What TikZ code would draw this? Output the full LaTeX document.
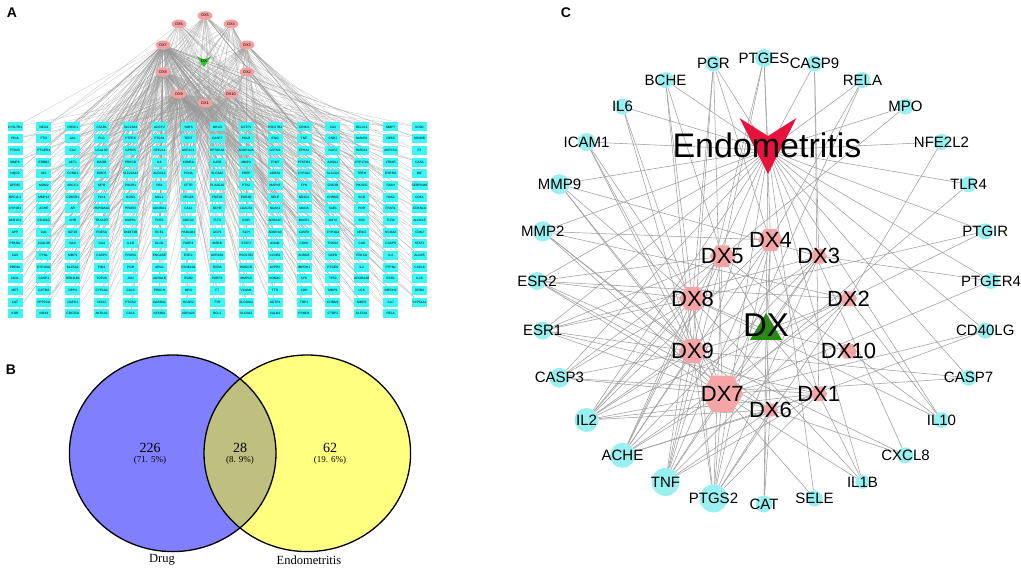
\documentclass[tikz,border=0pt]{standalone}
\usepackage{fontspec}
\setmainfont{Liberation Sans}
\newfontfamily\serifB{Liberation Serif}
\usetikzlibrary{shapes.geometric}
\pgfdeclarelayer{bg}
\pgfsetlayers{bg,main}
\definecolor{aboxc}{RGB}{60,245,245}
\definecolor{apink}{RGB}{244,160,160}
\definecolor{cgene}{RGB}{153,240,240}
\definecolor{cpink}{RGB}{245,165,165}
\definecolor{endoc}{RGB}{232,18,62}
\definecolor{dxg}{RGB}{40,140,20}
\definecolor{dxga}{RGB}{40,200,40}
\definecolor{vblue}{RGB}{128,128,255}
\definecolor{vyel}{RGB}{255,255,128}
\definecolor{volive}{RGB}{191,191,128}
\def\Lst{{7,8,9,7,1,9,8,10,7,3,2,9,4,7,6,5,8,1,7,9}}
\begin{document}
\begin{tikzpicture}[x=1pt,y=-1pt,
 abx/.style={draw=none,fill=aboxc,minimum width=15pt,minimum height=9pt,inner sep=0pt,font=\fontsize{3.2}{3.4}\selectfont},
 aell/.style={ellipse,fill=apink,minimum width=15pt,minimum height=9pt,inner sep=0pt,font=\fontsize{3.8}{4}\selectfont},
 aedge/.style={draw=gray!80,line width=0.3pt,opacity=0.55},
 cedge/.style={draw=gray!75,line width=0.55pt},
 gcirc/.style={circle,fill=cgene,inner sep=0pt},
 glab/.style={font=\fontsize{15}{18}\selectfont,inner sep=0pt},
 hexa/.style={regular polygon,regular polygon sides=6,fill=cpink,inner sep=0pt},
 dxlab/.style={font=\fontsize{22}{26}\selectfont,inner sep=0pt},
 plab/.style={font=\bfseries\fontsize{14}{16}\selectfont,inner sep=0pt},
 vlab/.style={font=\serifB\fontsize{14}{16}\selectfont,inner sep=0pt},
 vpct/.style={font=\serifB\fontsize{9}{11}\selectfont,inner sep=0pt},
 vname/.style={font=\serifB\fontsize{12.5}{15}\selectfont,inner sep=0pt},
]
\useasboundingbox (0,0) rectangle (1021,569);
\begin{pgfonlayer}{bg}
\fill[white] (0,0) rectangle (1021,569);
\end{pgfonlayer}

% ---------- panel labels
\node[plab] (labA) at (12,13) {A};
\node[plab] (labB) at (11,370) {B};
\node[plab] (labC) at (566,13) {C};

% ---------- panel A : compounds
\foreach \i/\px/\py in {5/205/15.7, 6/179/24, 4/231/24, 7/163/45, 3/247/45, 8/163/72, 2/247/72, 9/179/94, 10/231/94, 1/205/103}{
  \node[aell] (a\i) at (\px,\py) {DX\i};
}
\fill[dxga] (196.5,56) -- (204,60) -- (211.5,56) -- (204,67) -- cycle;
\node[inner sep=0pt,font=\fontsize{4.5}{5}\selectfont] (a0) at (204,61) {DX};

% ---------- panel A : targets
\foreach [count=\c from 0] \col in {
{CYSLTR1,PKIA,PTGIR,MMP8,NQO2,GPR35,NPC1L1,CYP1B1,AKR1C3,APP,PPARA,CA6,PDE9A,DIO1,MET,CAT,KDR},
{NEU4,FTO,PTGER4,ERBB2,INS,MDM2,MMP12,ACHE,CD40LG,CA1,LGALS8,PYGL,CYP19A1,CASP1,GSTM2,PPP3CA,NOX4},
{NR3C1,AXL,CA2,AKT1,CCND1,ABCC1,CDK5R1,AR,AHR,IGF1R,BAX,MMP1,SLC5A2,HSD11B1,DPP4,DAPK1,CDC25A},
{C5AR1,PLG,LGALS3,MAOB,BIRC5,MPO,PLK1,HSP90AA1,TBXA2R,PDE5A,CA4,CASP3,PIM1,TOP2A,CYP1A1,NOS2,AKR1A1},
{SLC29A1,PTPRS,GPR55,PRKCD,SLC22A12,PIK3R1,NOS3,PPARD,MAPK1,DNMT3B,IL1B,PPARG,PGR,JUN,CA13,PTGS2,CA14},
{ADCY2,PTGS1,NFE2L2,IL6,ALOX12,RB1,MCL1,ADORA1,FNTA,ECE1,GLO1,ENGASE,ARG1,ADRA1B,PRKCH,GABRA1,NFKBIA},
{YARS,TERT,AKR1C1,KDM5A,PCNA,CFTR,VEGFA,CA12,ABCG2,HSD11B2,FABP4,ESR2,CSNK2A1,ITGB2,MPG,HCAR2,ADRA2A},
{NR1I3,CASP7,RPS6KA3,CA5B,SLC6A2,PLA2G10,PDE1B,BCHE,FLT3,ACP1,IKBKB,AKR1B1,RXRA,PARP1,F7,TYR,BCL2},
{GSTP1,POLB,ADORA2A,MMP3,PREP,PTK2,PDE4D,LGALS4,INSR,SLPI,STAT3,HSD17B2,HMGCR,MMP13,VCAM1,SLC28A2,SLC6A3},
{HSD17B1,IFNG,GSTM1,TPMT,ADRB2,MAPK8,SELE,NUAK1,ADRA2C,ADORA3,ICAM1,CCNB1,AVPR2,KDM4C,TTR,AGTR1,CALM1},
{GRIK4,TNF,EPHX2,PFKFB3,CYP1A2,FYN,NR3C2,MAOA,BACE1,CASP8,CDK6,AURKB,IMPDH1,SYK,XDH,TOP1,PSMD3},
{CA3,CNR1,NUF2,AHSA1,SLC2A4,GSK3B,CHRM2,SAE1,AMY2,CYP3A4,TNKS2,G6PD,PTGES,TP53,MMP9,CHRM1,CTBP2},
{BCL2L1,NMUR2,HMOX1,CYP17A1,TREH,PIK3CG,SCD,POR,SRC,NR1I2,CA9,PRKCA,IL2,ADORA2B,LCK,MMP2,SLC5A1},
{MMP7,NEK6,AKR1C4,LTB4R,ESRRA,FAAH,HAS2,FFAR1,TLR4,NCOA2,CASP9,IL4,PTPN1,ESR1,IMPDH2,CA7,RELA},
{SOD1,KDM6B,F2,CA5A,MIF,SERPINA6,CDK1,CDKN1A,ALOX15,CDK2,STAT1,ALOX5,CXCL8,IL10,DRD4,CYP51A1}}{
  \foreach [count=\r from 0] \g in \col {
    \node[abx] (g-\c-\r) at ({15+28.9*\c},{127+11.68*\r}) {\g};
  }
}

% ---------- panel A : edges (one layer block)
\begin{pgfonlayer}{bg}
\foreach \i in {1,...,10} \draw[aedge] (a0) -- (a\i);
\foreach \c in {0,...,14}{
  \foreach \r in {0,...,16}{
    \pgfmathtruncatemacro\n{\c*17+\r}
    \ifnum\n<254
      \pgfmathtruncatemacro\ia{mod(\n*7,20)}
      \pgfmathtruncatemacro\ib{mod(\n*13+11,20)}
      \pgfmathtruncatemacro\ic{mod(\n*3+2,20)}
      \pgfmathtruncatemacro\ka{\Lst[\ia]}
      \pgfmathtruncatemacro\kb{\Lst[\ib]}
      \pgfmathtruncatemacro\kc{\Lst[\ic]}
      \draw[aedge] (a\ka) -- (g-\c-\r);
      \draw[aedge] (a\kb) -- (g-\c-\r);
      \ifodd\n \draw[aedge] (a\kc) -- (g-\c-\r); \fi
    \fi
  }
}
\end{pgfonlayer}

% ---------- panel B : Venn
\fill[vblue] (172.7,453.3) ellipse [x radius=103.3, y radius=98.3];
\fill[vyel] (307.3,453.3) ellipse [x radius=103.3, y radius=98.3];
\begin{scope}
  \clip (172.7,453.3) ellipse [x radius=103.3, y radius=98.3];
  \fill[volive] (307.3,453.3) ellipse [x radius=103.3, y radius=98.3];
\end{scope}
\draw[line width=1.3pt] (172.7,453.3) ellipse [x radius=103.3, y radius=98.3];
\draw[line width=1.3pt] (307.3,453.3) ellipse [x radius=103.3, y radius=98.3];
\node[vlab] (n226) at (150,447.5) {226};
\node[vpct] (p226) at (150,460) {(71. 5\%)};
\node[vlab] (n28) at (240,447.5) {28};
\node[vpct] (p28) at (240,460) {(8. 9\%)};
\node[vlab] (n62) at (330,447.5) {62};
\node[vpct] (p62) at (330,460) {(19. 6\%)};
\node[vname] (drug) at (162,560) {Drug};
\node[vname] (endoB) at (309,560) {Endometritis};

% ---------- panel C : targets on the ring
\foreach [count=\k from 0] \g/\rr in {PTGES/9,CASP9/8,RELA/8,MPO/8,NFE2L2/8,TLR4/8,PTGIR/8,PTGER4/8,CD40LG/8,CASP7/8,IL10/8,CXCL8/8,IL1B/7,SELE/8,CAT/8.5,PTGS2/14,TNF/14,ACHE/12.5,IL2/12,CASP3/10,ESR1/9,ESR2/9,MMP2/10,MMP9/10,ICAM1/9,IL6/8,BCHE/8,PGR/8}{
  \pgfmathsetmacro\dd{2*\rr}
  \node[gcirc,minimum size=\dd pt] (c-\g) at ({764+227*cos(90-\k*360/28)},{281-223*sin(90-\k*360/28)}) {};
  \node[glab] (t-\g) at (c-\g) {\g};
}

% ---------- panel C : compounds
\foreach \i/\ang/\w in {4/90/25, 3/54/17, 2/18/17, 10/-18/17, 1/-54/17, 6/-90/15, 7/-126/42, 9/-162/28, 8/162/27, 5/126/25}{
  \node[hexa,minimum size=\w pt] (c\i) at ({770.5+82*cos(\ang)},{325-85*sin(\ang)}) {};
}
\foreach \i in {1,...,10}{
  \node[dxlab] (c\i-t) at (c\i) {DX\i};
}

% DX herb
\fill[dxg] (766,313) -- (782,340) -- (750,340) -- cycle;
\coordinate (dx) at (766,330);
\node[inner sep=0pt,font=\fontsize{33}{38}\selectfont] (dxt) at (766,325) {DX};

% Endometritis
\fill[endoc] (739.5,118) -- (768,136) -- (796.5,118) -- (768,174) -- cycle;
\coordinate (endo) at (768,150);
\node[inner sep=0pt,font=\fontsize{34}{40}\selectfont] (endot) at (767,145) {Endometritis};

% ---------- panel C : edges
\begin{pgfonlayer}{bg}
\foreach \g in {PTGES,CASP9,RELA,MPO,NFE2L2,TLR4,PTGIR,PTGER4,CD40LG,CASP7,IL10,CXCL8,IL1B,SELE,CAT,PTGS2,TNF,ACHE,IL2,CASP3,ESR1,ESR2,MMP2,MMP9,ICAM1,IL6,BCHE,PGR}
  \draw[cedge] (endo) -- (c-\g);
\foreach \i in {1,...,10} \draw[cedge] (dx) -- (c\i);
\foreach \i/\gl in {
 1/{PTGS2,TNF,ACHE,IL2,ESR1,CASP3,PGR,CASP9,IL1B},
 2/{PTGS2,TNF,ACHE,IL2,ESR2,MMP2,PTGIR,NFE2L2,IL10},
 3/{PTGS2,TNF,ACHE,IL2,ESR1,CASP9,PTGER4,MMP9},
 4/{PTGS2,TNF,ACHE,IL2,CAT,PTGES,RELA,MMP2},
 5/{PTGS2,TNF,ACHE,IL2,ESR1,ESR2,CASP3,PTGES,BCHE,MPO,IL10},
 6/{PTGS2,TNF,ACHE,IL2,CAT,CD40LG,MMP2,ESR2},
 7/{PTGS2,TNF,ACHE,IL2,ESR1,ESR2,CASP3,MMP9,MMP2,ICAM1,IL6,PGR,RELA,CASP7,CD40LG,IL1B,CXCL8,SELE,PTGER4,TLR4},
 8/{PTGS2,TNF,ACHE,IL2,ESR1,ESR2,CASP3,MMP9,BCHE,PGR,IL10,IL1B,PTGIR,ICAM1},
 9/{PTGS2,TNF,ACHE,IL2,ESR1,ESR2,CASP3,MMP2,MMP9,ICAM1,IL6,CASP7,CXCL8,PTGES,PGR,BCHE}}{
  \foreach \g in \gl \draw[cedge] (c\i) -- (c-\g);
}
\end{pgfonlayer}
\end{tikzpicture}
\end{document}
